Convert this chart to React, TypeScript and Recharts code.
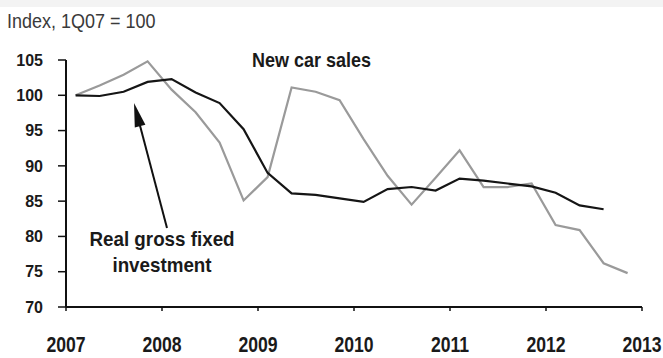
import React from "react";
import { LineChart, Line, XAxis, YAxis } from "recharts";

const quarters = [
  "1Q07", "2Q07", "3Q07", "4Q07",
  "1Q08", "2Q08", "3Q08", "4Q08",
  "1Q09", "2Q09", "3Q09", "4Q09",
  "1Q10", "2Q10", "3Q10", "4Q10",
  "1Q11", "2Q11", "3Q11", "4Q11",
  "1Q12", "2Q12", "3Q12", "4Q12",
];

const investment: (number | null)[] = [
  100, 99.9, 100.5, 101.9,
  102.3, 100.4, 98.9, 95.2,
  89.0, 86.1, 85.9, 85.4,
  84.9, 86.7, 87.0, 86.5,
  88.2, 87.9, 87.5, 87.1,
  86.2, 84.4, 83.85, null,
];

const carSales: number[] = [
  100, 101.4, 102.9, 104.8,
  100.8, 97.6, 93.3, 85.1,
  88.4, 101.1, 100.5, 99.3,
  93.8, 88.6, 84.5, 88.3,
  92.2, 87.0, 87.0, 87.5,
  81.6, 80.9, 76.2, 74.8,
];

const yTicks = [70, 75, 80, 85, 90, 95, 100, 105];
const xTicks = [2007, 2008, 2009, 2010, 2011, 2012, 2013];

const data = quarters.map((q, i) => {
  const qn = Number(q[0]);
  const yr = 2000 + Number(q.slice(2));
  return {
    q,
    t: yr + (qn - 1) / 4 + 0.1,
    investment: investment[i],
    carSales: carSales[i],
  };
});

const FONT = "'Liberation Sans', Arial, Helvetica, sans-serif";

const XTick = (props: any) => {
  const { x, y, payload } = props;
  return (
    <g transform={`translate(${x},${y})`}>
      <text
        x={0}
        y={0}
        dy={39}
        textAnchor="middle"
        fontFamily={FONT}
        fontWeight="bold"
        fontSize={22}
        fill="#1a1a1a"
        transform="scale(0.8,1)"
      >
        {payload.value}
      </text>
    </g>
  );
};

export default function App() {
  return (
    <div
      style={{
        position: "absolute",
        left: 0,
        top: 0,
        width: 663,
        height: 358,
        background: "#ffffff",
        overflow: "hidden",
      }}
    >
      <div
        style={{
          position: "absolute",
          left: 0,
          top: 0,
          width: 663,
          height: 7,
          background: "#f3f3f3",
        }}
      />
      <LineChart
        width={663}
        height={358}
        data={data}
        margin={{ top: 60, right: 21, bottom: 0, left: 0 }}
        style={{ position: "absolute", left: 0, top: 0 }}
      >
        <XAxis
          dataKey="t"
          type="number"
          domain={[2007, 2013]}
          ticks={xTicks}
          interval={0}
          height={51}
          tickSize={4}
          tickMargin={2}
          axisLine={{ stroke: "#111", strokeWidth: 2 }}
          tickLine={{ stroke: "#111", strokeWidth: 1.5 }}
          tick={<XTick />}
        />
        <YAxis
          domain={[70, 105]}
          ticks={yTicks}
          interval={0}
          width={66}
          tickSize={8}
          tickMargin={15}
          axisLine={{ stroke: "#111", strokeWidth: 2 }}
          tickLine={{ stroke: "#111", strokeWidth: 1.5 }}
          tick={{
            fontFamily: FONT,
            fontWeight: "bold",
            fontSize: 16,
            fill: "#1a1a1a",
          }}
        />
        <Line
          type="linear"
          dataKey="carSales"
          stroke="#9a9a9a"
          strokeWidth={2.2}
          dot={false}
          isAnimationActive={false}
        />
        <Line
          type="linear"
          dataKey="investment"
          stroke="#151515"
          strokeWidth={2.2}
          dot={false}
          connectNulls={false}
          isAnimationActive={false}
        />
      </LineChart>
      <svg
        width={663}
        height={358}
        style={{ position: "absolute", left: 0, top: 0, pointerEvents: "none" }}
      >
        <text
          x={0}
          y={0}
          fontFamily={FONT}
          fontSize={20}
          fill="#3a3a3a"
          transform="translate(7,28) scale(0.9,1)"
        >
          Index, 1Q07 = 100
        </text>
        <text
          x={0}
          y={0}
          fontFamily={FONT}
          fontWeight="bold"
          fontSize={20}
          fill="#1a1a1a"
          transform="translate(252,67) scale(0.9,1)"
        >
          New car sales
        </text>
        <text
          x={0}
          y={0}
          textAnchor="middle"
          fontFamily={FONT}
          fontWeight="bold"
          fontSize={20}
          fill="#1a1a1a"
          transform="translate(162,246) scale(0.94,1)"
        >
          Real gross fixed
        </text>
        <text
          x={0}
          y={0}
          textAnchor="middle"
          fontFamily={FONT}
          fontWeight="bold"
          fontSize={20}
          fill="#1a1a1a"
          transform="translate(162,272) scale(0.94,1)"
        >
          investment
        </text>
        <line x1={167} y1={228} x2={138} y2={118} stroke="#111" strokeWidth={2} />
        <polygon points="134,103 145.4,124.8 134.8,127.6" fill="#111" />
      </svg>
    </div>
  );
}
